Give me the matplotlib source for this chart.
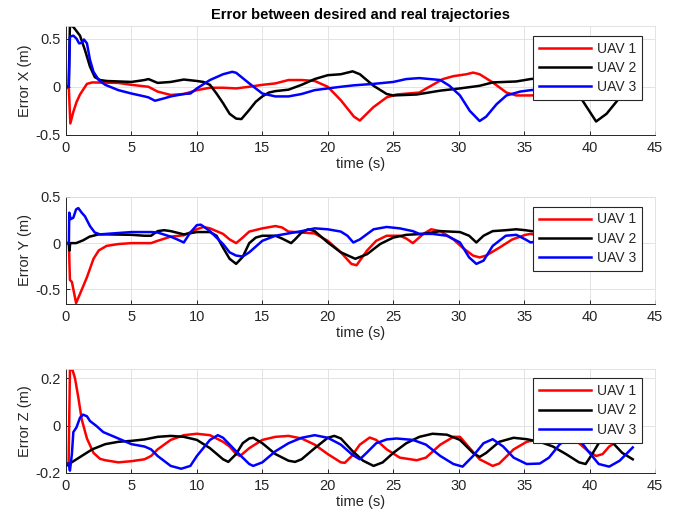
import matplotlib
matplotlib.use("Agg")
import matplotlib.pyplot as plt
import numpy as np

plt.rcParams['font.family'] = ['Liberation Sans', 'DejaVu Sans']
plt.rcParams['axes.unicode_minus'] = False

# (time [s], error [m])
ex_uav1 = np.array([
    (0, 0), (0.22, -0.02), (0.33, -0.38), (0.56, -0.26), (0.8, -0.16), (1.07, -0.08),
    (1.6, 0.03), (2.0, 0.045), (4.0, 0.04), (5.0, 0.02), (6.3, 0.0), (7.0, -0.05),
    (8.0, -0.085), (9.0, -0.075), (10.0, -0.035), (11.0, -0.01), (12.0, -0.01),
    (13.0, -0.017), (14.0, 0.0), (15.0, 0.02), (16.0, 0.035), (17.0, 0.07), (18.0, 0.07),
    (19.0, 0.06), (20.0, 0.0), (21.0, -0.14), (22.0, -0.31), (22.45, -0.35), (23.5, -0.21),
    (24.5, -0.11), (25.25, -0.08), (27.0, -0.06), (27.5, -0.02), (28.8, 0.08), (29.6, 0.11),
    (30.6, 0.13), (31.1, 0.147), (31.6, 0.13), (32.6, 0.045), (33.65, -0.06), (34.4, -0.09),
    (35.5, -0.09), (37, -0.08), (39, -0.03), (41, 0.0), (43.3, 0.02)])
ex_uav2 = np.array([
    (0, 0), (0.2, 0), (0.3, 0.64), (0.56, 0.62), (1.07, 0.53), (1.45, 0.38), (1.83, 0.21),
    (2.2, 0.10), (2.6, 0.07), (3.1, 0.06), (5, 0.05), (6, 0.07), (6.3, 0.08), (7, 0.04),
    (8, 0.05), (9, 0.075), (10, 0.06), (10.5, 0.05), (11, 0.02), (11.5, -0.07), (12, -0.17),
    (12.5, -0.28), (13, -0.33), (13.4, -0.335), (14, -0.24), (14.5, -0.155), (15, -0.10),
    (15.5, -0.06), (16, -0.045), (17, -0.03), (18, 0.02), (19, 0.08), (20, 0.12), (21, 0.13),
    (21.9, 0.16), (22.45, 0.13), (23.5, 0.01), (24.5, -0.075), (25, -0.09), (26.8, -0.08),
    (28.6, -0.04), (30.1, -0.017), (31.6, 0.01), (32.6, 0.045), (34.4, 0.055), (35.5, 0.08),
    (37, 0.1), (38.5, 0.08), (39.4, -0.13), (40.5, -0.36), (41.3, -0.28), (42.2, -0.13),
    (43.3, 0.0)])
ex_uav3 = np.array([
    (0, 0), (0.22, 0), (0.3, 0.52), (0.56, 0.53), (0.8, 0.5), (1.0, 0.45), (1.2, 0.455),
    (1.37, 0.49), (1.6, 0.45), (1.83, 0.28), (2.1, 0.155), (2.5, 0.07), (3, 0.02), (4, -0.035),
    (5, -0.07), (6, -0.1), (6.3, -0.11), (6.8, -0.145), (7.5, -0.12), (8, -0.1), (9, -0.075),
    (9.5, -0.07), (10, -0.017), (11, 0.07), (12, 0.13), (12.7, 0.155), (13, 0.145), (14, 0.035),
    (15, -0.07), (16, -0.1), (17, -0.1), (18, -0.075), (19, -0.035), (20, -0.017), (21, 0.0),
    (22, 0.015), (23.5, 0.03), (25, 0.05), (26, 0.08), (27, 0.09), (28.6, 0.07), (29.3, 0.01),
    (30.1, -0.09), (30.85, -0.25), (31.6, -0.355), (32.1, -0.31), (32.9, -0.18), (33.65, -0.09),
    (34.7, -0.05), (35.5, -0.035), (37, -0.02), (39, 0.0), (41, 0.01), (43.3, 0.02)])

ey_uav1 = np.array([
    (0, 0), (0.22, 0), (0.3, -0.4), (0.45, -0.42), (0.77, -0.65), (1.07, -0.55), (1.6, -0.37),
    (2.1, -0.17), (2.5, -0.08), (3.1, -0.03), (4, -0.01), (5, 0.0), (6.5, 0.0), (7, 0.025),
    (8, 0.07), (9, 0.085), (10, 0.15), (10.5, 0.175), (11, 0.16), (12, 0.1), (12.5, 0.04),
    (13, 0.0), (13.5, 0.06), (14, 0.125), (15, 0.16), (16, 0.185), (16.5, 0.17), (17, 0.125),
    (18, 0.115), (19, 0.105), (20, 0.025), (21, -0.1), (21.8, -0.225), (22.2, -0.24),
    (23, -0.08), (23.7, 0.025), (24.5, 0.08), (25.5, 0.08), (26, 0.05), (26.5, 0.0),
    (27.3, 0.1), (27.9, 0.15), (28.6, 0.13), (29.6, 0.04), (30.3, -0.05), (31.1, -0.135),
    (31.6, -0.155), (32.1, -0.135), (33.1, -0.05), (34.1, 0.04), (35.1, 0.09), (35.5, 0.1),
    (37, 0.05), (39, -0.05), (41, 0.05), (43.3, 0.0)])
ey_uav2 = np.array([
    (0, 0), (0.22, 0), (0.27, -0.08), (0.32, 0.0), (0.77, 0.0), (1.3, 0.03), (1.8, 0.07),
    (2.5, 0.095), (3, 0.095), (5, 0.09), (6, 0.08), (6.5, 0.08), (7, 0.13), (7.5, 0.14),
    (8, 0.13), (9, 0.095), (10, 0.12), (11, 0.12), (11.5, 0.08), (12, -0.05), (12.5, -0.17),
    (13, -0.225), (13.5, -0.15), (14, 0.0), (14.5, 0.06), (15, 0.08), (16, 0.08), (16.5, 0.05),
    (17.2, 0.0), (17.5, 0.04), (18, 0.115), (18.5, 0.15), (19, 0.13), (20, 0.007), (21, -0.1),
    (22.1, -0.17), (23, -0.12), (24, -0.01), (25, 0.06), (26, 0.09), (27.3, 0.1), (28.6, 0.13),
    (30.1, 0.12), (30.8, 0.08), (31.35, 0.007), (31.9, 0.08), (32.6, 0.13), (33.6, 0.14),
    (34.4, 0.15), (35.1, 0.14), (37, 0.1), (39, 0.05), (41, 0.1), (43.3, 0.05)])
ey_uav3 = np.array([
    (0, 0), (0.22, 0), (0.25, 0.33), (0.36, 0.26), (0.56, 0.275), (0.77, 0.365), (0.94, 0.38),
    (1.2, 0.33), (1.45, 0.29), (1.83, 0.185), (2.2, 0.115), (2.6, 0.095), (5, 0.12),
    (6.5, 0.12), (7, 0.115), (8, 0.07), (8.5, 0.04), (9, 0.007), (9.5, 0.115), (10, 0.195),
    (10.3, 0.2), (11, 0.13), (12, -0.01), (12.5, -0.1), (13, -0.135), (13.5, -0.145),
    (14, -0.1), (15, 0.025), (16, 0.08), (17, 0.105), (18, 0.13), (19, 0.16), (20, 0.15),
    (21, 0.125), (21.5, 0.08), (21.95, 0.007), (22.45, 0.04), (23.5, 0.15), (24.5, 0.175),
    (25.5, 0.16), (26.5, 0.13), (27, 0.1), (28, 0.1), (29.1, 0.08), (30.1, 0.007),
    (30.8, -0.155), (31.35, -0.225), (31.9, -0.19), (32.6, -0.03), (33.6, 0.08), (34.4, 0.09),
    (35.1, 0.04), (35.5, 0.007), (37, 0.05), (39, 0.1), (41, 0.0), (43.3, 0.05)])

ez_uav1 = np.array([
    (0, -0.16), (0.2, -0.16), (0.3, 0.236), (0.5, 0.236), (0.69, 0.2), (0.94, 0.12),
    (1.2, 0.027), (1.6, -0.054), (2.1, -0.115), (2.6, -0.14), (3, -0.146), (4, -0.155),
    (5, -0.15), (6, -0.142), (6.5, -0.128), (7, -0.1), (8, -0.06), (9, -0.04), (10, -0.034),
    (11, -0.04), (12, -0.068), (12.5, -0.088), (13, -0.12), (13.3, -0.128), (14, -0.095),
    (15, -0.06), (16, -0.047), (17, -0.043), (18, -0.054), (19, -0.08), (20, -0.12),
    (21, -0.155), (21.3, -0.157), (21.8, -0.13), (22.45, -0.08), (23.2, -0.05), (23.7, -0.06),
    (24.5, -0.1), (25.5, -0.135), (26.8, -0.146), (27.5, -0.135), (28.6, -0.08), (29.6, -0.047),
    (30.1, -0.047), (30.85, -0.095), (31.6, -0.142), (32.6, -0.17), (33.1, -0.16), (34.2, -0.1),
    (35.2, -0.068), (36.2, -0.057), (37.2, -0.057), (38.2, -0.054), (39.2, -0.074),
    (39.9, -0.108), (40.5, -0.128), (41, -0.12), (41.5, -0.088), (42.3, -0.06), (42.8, -0.04),
    (43.3, -0.03)])
ez_uav2 = np.array([
    (0, -0.17), (1, -0.135), (2, -0.1), (3, -0.078), (4, -0.068), (5, -0.064), (6, -0.058),
    (7, -0.047), (8, -0.043), (9, -0.047), (10, -0.06), (11, -0.095), (12, -0.142),
    (12.4, -0.153), (13, -0.12), (13.5, -0.074), (14, -0.054), (14.3, -0.051), (15, -0.074),
    (16, -0.12), (17, -0.148), (17.5, -0.153), (18, -0.142), (19, -0.095), (20, -0.051),
    (20.5, -0.043), (21, -0.054), (21.9, -0.108), (22.7, -0.148), (23.5, -0.17), (24.2, -0.155),
    (25, -0.115), (26, -0.074), (27, -0.047), (28, -0.034), (29.1, -0.038), (30.1, -0.06),
    (31.1, -0.115), (31.6, -0.132), (32.1, -0.115), (33.1, -0.068), (34.2, -0.051),
    (35.2, -0.057), (36.2, -0.068), (37.2, -0.088), (38.2, -0.12), (39.2, -0.155),
    (39.7, -0.162), (40.2, -0.12), (40.7, -0.074), (41.3, -0.057), (41.8, -0.074),
    (42.5, -0.115), (43.3, -0.142)])
ez_uav3 = np.array([
    (0, -0.16), (0.2, -0.16), (0.3, -0.19), (0.45, -0.12), (0.56, -0.027), (0.8, -0.007),
    (1.07, 0.034), (1.3, 0.047), (1.6, 0.04), (1.83, 0.02), (2.3, 0.0), (2.85, -0.027),
    (4, -0.054), (5, -0.078), (6, -0.088), (6.5, -0.1), (7, -0.128), (8, -0.17), (8.8, -0.182),
    (9.5, -0.17), (10, -0.128), (11, -0.06), (11.6, -0.04), (12, -0.051), (13, -0.108),
    (14, -0.162), (14.3, -0.17), (15, -0.155), (16, -0.108), (17, -0.074), (18, -0.051),
    (19, -0.04), (20, -0.051), (21, -0.08), (21.9, -0.124), (22.45, -0.142), (22.96, -0.115),
    (23.7, -0.074), (24.5, -0.058), (25.25, -0.054), (26.5, -0.06), (27.5, -0.08),
    (28.6, -0.128), (29.6, -0.162), (30.3, -0.173), (31.1, -0.128), (31.9, -0.074),
    (32.6, -0.057), (33.4, -0.088), (34.2, -0.135), (35.2, -0.162), (36.2, -0.16),
    (36.9, -0.135), (37.7, -0.08), (38.2, -0.057), (39.2, -0.057), (39.9, -0.108),
    (40.7, -0.162), (41.5, -0.173), (42.3, -0.148), (43.3, -0.092)])

labels = ['UAV 1', 'UAV 2', 'UAV 3']
colors = ['#ff0000', '#000000', '#0000ff']
ylabels = ['Error X (m)', 'Error Y (m)', 'Error Z (m)']
ylims = [(-0.5, 0.63), (-0.66, 0.5), (-0.2, 0.24)]
yticks = [[-0.5, 0, 0.5], [-0.5, 0, 0.5], [-0.2, 0, 0.2]]
yticklabels = [['-0.5', '0', '0.5'], ['-0.5', '0', '0.5'], ['-0.2', '0', '0.2']]
xticks = np.arange(0, 46, 5)

series = [[ex_uav1, ex_uav2, ex_uav3],
          [ey_uav1, ey_uav2, ey_uav3],
          [ez_uav1, ez_uav2, ez_uav3]]

W, H = 684, 525
# axes boxes in pixels: left, top, right, bottom
boxes = [(66, 26, 655, 135), (66, 197, 655, 304), (66, 369, 655, 473)]
txt = '#262626'

fig = plt.figure(figsize=(W / 100, H / 100), dpi=100)
for i in range(3):
    l, t, r, b = boxes[i]
    ax = fig.add_axes([l / W, 1 - b / H, (r - l) / W, (b - t) / H])
    for data, c, lab in zip(series[i], colors, labels):
        ax.plot(data[:, 0], data[:, 1], color=c, lw=1.8, label=lab)
    ax.set_xlim(0, 45)
    ax.set_ylim(*ylims[i])
    ax.set_xticks(xticks)
    ax.set_xticklabels([str(v) for v in xticks])
    ax.set_yticks(yticks[i])
    ax.set_yticklabels(yticklabels[i])
    ax.grid(True, color='#dedede', lw=0.6)
    ax.set_axisbelow(True)
    for s in ['top', 'right']:
        ax.spines[s].set_color('#dedede')
        ax.spines[s].set_linewidth(0.6)
    for s in ['left', 'bottom']:
        ax.spines[s].set_color(txt)
        ax.spines[s].set_linewidth(0.7)
    ax.tick_params(direction='in', length=3, width=0.7, colors=txt, labelsize=10.5,
                   top=False, right=False, pad=4)
    ax.set_xlabel('time (s)', fontsize=10.5, color=txt, labelpad=2)
    ax.set_ylabel(ylabels[i], fontsize=10.5, color=txt, labelpad=2)
    leg = ax.legend(loc='upper right', bbox_to_anchor=(0.978, 0.91), borderaxespad=0,
                    fontsize=10, frameon=True, fancybox=False, framealpha=1,
                    edgecolor='#262626', handlelength=3.8, handletextpad=0.4,
                    labelspacing=0.38, borderpad=0.42)
    leg.get_frame().set_linewidth(0.8)
    for tx in leg.get_texts():
        tx.set_color(txt)
    if i == 0:
        ax.set_title('Error between desired and real trajectories', fontsize=10.5,
                     fontweight='bold', color='#000000', pad=5)

fig.savefig('out.png', dpi=100)
